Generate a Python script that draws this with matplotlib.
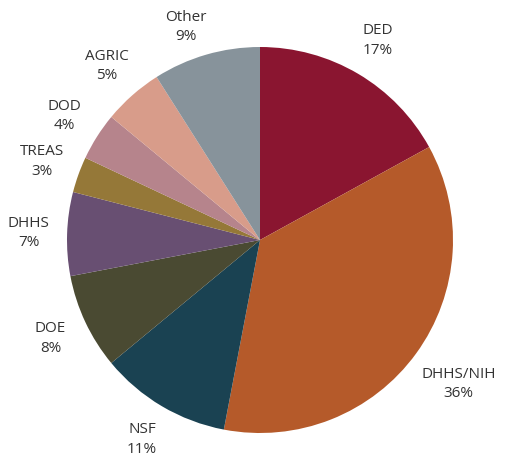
import numpy as np
import matplotlib
matplotlib.use("Agg")
import matplotlib.pyplot as plt

labels = ["DED", "DHHS/NIH", "NSF", "DOE", "DHHS", "TREAS", "DOD", "AGRIC", "Other"]
values = [17, 36, 11, 8, 7, 3, 4, 5, 9]
colors = ["#8A1530", "#B55A2A", "#1A4252", "#4A4A32", "#684F72",
          "#957838", "#B6848C", "#D89C8A", "#87939B"]

plt.rcParams['font.family'] = ['Open Sans', 'DejaVu Sans']

W, H = 506, 462
fig = plt.figure(figsize=(W / 100, H / 100), dpi=100)
ax = fig.add_axes([0, 0, 1, 1])

R = 193.0
cx, cy = 260.0, 240.0

wedges, _ = ax.pie(values, colors=colors, startangle=90, counterclock=False,
                   radius=1.0, wedgeprops=dict(linewidth=0))

ax.set_xlim(-cx / R, (W - cx) / R)
ax.set_ylim(-(H - cy) / R, cy / R)
ax.set_aspect('auto')
ax.axis('off')

dist = {"DHHS/NIH": 1.27, "Other": 1.17}
for w, lab, v in zip(wedges, labels, values):
    ang = np.deg2rad((w.theta1 + w.theta2) / 2)
    if lab == "Other":
        ang += np.deg2rad(3)
    d = dist.get(lab, 1.2)
    x, y = d * np.cos(ang), d * np.sin(ang)
    ax.text(x, y, f"{lab}\n{v}%", ha='center', va='center', fontsize=11,
            color='#333333', linespacing=1.4)

fig.savefig("out.png", dpi=100)
